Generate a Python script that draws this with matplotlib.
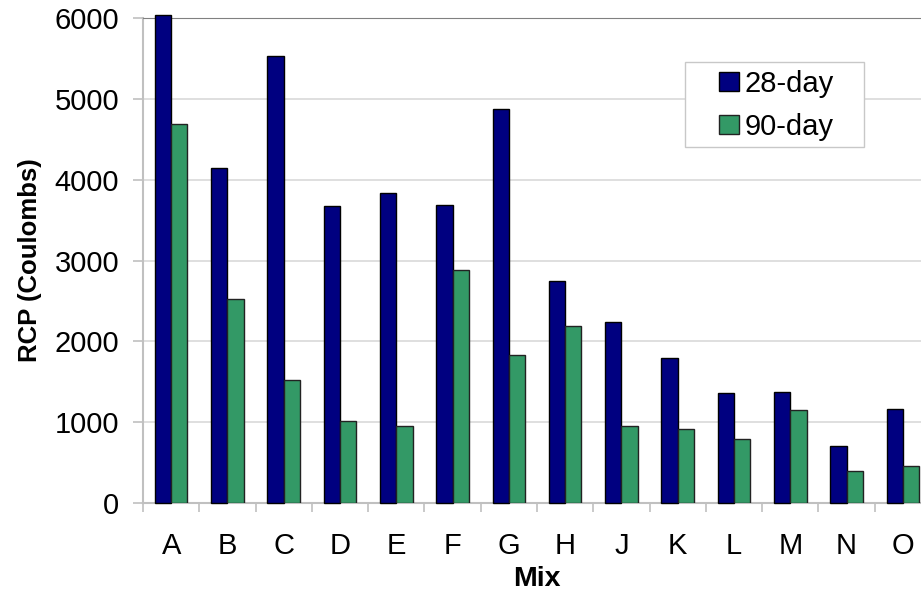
import matplotlib.pyplot as plt
import numpy as np
from matplotlib.patches import Rectangle

plt.rcParams["font.family"] = ["Liberation Sans", "DejaVu Sans"]

mixes = ["A", "B", "C", "D", "E", "F", "G", "H", "J", "K", "L", "M", "N", "O"]
rcp_28 = [6040, 4140, 5530, 3670, 3840, 3685, 4870, 2745, 2235, 1800, 1360, 1377, 700, 1163]
rcp_90 = [4690, 2520, 1520, 1020, 957, 2880, 1835, 2195, 957, 920, 796, 1155, 396, 454]

NAVY = "#000080"
GREEN = "#339966"
GRID = "#d9d9d9"
W, H = 921, 595

fig = plt.figure(figsize=(W / 100, H / 100), dpi=100)
ax = fig.add_axes([143 / W, 92 / H, 788 / W, 485 / H])

x = np.arange(len(mixes))
w = 0.29
ax.bar(x - w / 2, rcp_28, w, color=NAVY, edgecolor="black", linewidth=1.0,
       label="28-day", zorder=3, clip_on=False)
ax.bar(x + w / 2, rcp_90, w, color=GREEN, edgecolor="#222222", linewidth=1.0,
       label="90-day", zorder=3)

ax.set_xlim(-0.5, len(mixes) - 0.5)
ax.set_ylim(0, 6000)
ax.set_yticks(range(0, 6001, 1000))
ax.yaxis.grid(True, color=GRID, linewidth=1.2, zorder=0)
ax.set_axisbelow(True)

# category labels centred, tick marks on the boundaries
ax.set_xticks(x)
ax.set_xticklabels(mixes)
ax.set_xticks(np.arange(-0.5, len(mixes), 1.0), minor=True)
ax.tick_params(axis="x", which="major", length=0, pad=21, labelsize=21)
ax.tick_params(axis="x", which="minor", length=6.5, width=1.2, color="#c0c0c0")
ax.tick_params(axis="y", length=7.2, width=1.2, color="#c0c0c0", pad=10, labelsize=21)

for side in ["left", "bottom"]:
    ax.spines[side].set_color("#c0c0c0")
    ax.spines[side].set_linewidth(1.5)
ax.spines["top"].set_color("#808080")
ax.spines["right"].set_visible(False)

ax.set_ylabel("RCP (Coulombs)", fontsize=18.5, fontweight="bold", labelpad=9)
ax.set_xlabel("Mix", fontsize=20.5, fontweight="bold", labelpad=4)

# legend box drawn separately so the padding can match the reference
box = Rectangle((685 / W, 1 - 147 / H), 179 / W, 85 / H, transform=fig.transFigure,
                facecolor="white", edgecolor="#c8c8c8", linewidth=1.0, zorder=4)
ax.add_patch(box)
box.set_clip_on(False)
leg = ax.legend(loc="upper left", bbox_to_anchor=(719 / W, 1 - 70 / H),
                bbox_transform=fig.transFigure, fontsize=21, frameon=False,
                handlelength=0.68, handleheight=0.65, handletextpad=0.2,
                borderpad=0, labelspacing=0.5, borderaxespad=0)
leg.set_zorder(5)

fig.savefig("out.png", dpi=100)
